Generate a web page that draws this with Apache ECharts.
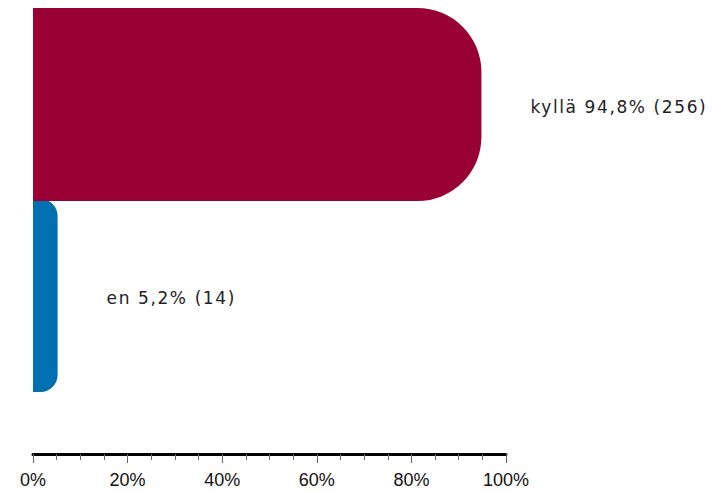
<!DOCTYPE html>
<html><head><meta charset="utf-8">
<script src="https://cdn.jsdelivr.net/npm/echarts@6/dist/echarts.min.js"></script>
<style>html,body{margin:0;padding:0;background:#fff}#c{width:714px;height:491px}</style>
</head><body><div id="c"></div>
<script>
const categories = ['kyllä', 'en'];
const percents = [94.8, 5.2];
const counts = [256, 14];
const colors = ['#990033', '#0070b0'];
const tickValues = [0, 20, 40, 60, 80, 100];

function fmt(i) {
  return categories[i] + ' ' + String(percents[i]).replace('.', ',') + '% (' + counts[i] + ')';
}
function seriesFor(i, radius) {
  return {
    type: 'bar',
    name: categories[i],
    barWidth: 194,
    barGap: '-100%',
    z: i === 0 ? 3 : 2,
    data: categories.map((c, j) => j === i ? percents[i] : '-'),
    itemStyle: { color: colors[i], borderRadius: [0, radius, radius, 0] },
    label: {
      show: true, position: 'right', distance: 49, offset: [0, 2],
      formatter: () => fmt(i),
      fontFamily: 'DejaVu Sans', fontSize: 17, color: '#222'
    }
  };
}
const chart = echarts.init(document.getElementById('c'), null, { renderer: 'svg' });
chart.setOption({
  animation: false,
  grid: { left: 33, right: 208, top: 8, bottom: 99, outerBoundsMode: 'none' },
  xAxis: {
    type: 'value', min: tickValues[0], max: tickValues[tickValues.length - 1], interval: 20, offset: 62,
    splitLine: { show: false },
    axisLine: { show: true, lineStyle: { color: '#000', width: 3 } },
    axisTick: { show: true, length: 9, lineStyle: { color: '#666', width: 1 } },
    minorTick: { show: true, splitNumber: 4, length: 6, lineStyle: { color: '#666', width: 1 } },
    axisLabel: { formatter: v => v + '%', fontFamily: 'Liberation Sans', fontSize: 18, color: '#111', margin: 17 }
  },
  yAxis: {
    type: 'category', data: categories, inverse: true,
    axisLine: { show: false }, axisTick: { show: false }, axisLabel: { show: false }, splitLine: { show: false }
  },
  series: [seriesFor(1, 17), seriesFor(0, 64)]
});
function spaceLabels() {
  document.querySelectorAll('#c svg text').forEach(t => {
    if (t.textContent.indexOf('(') >= 0) t.style.letterSpacing = '1.6px';
  });
}
spaceLabels();
chart.on('finished', spaceLabels);
</script></body></html>
